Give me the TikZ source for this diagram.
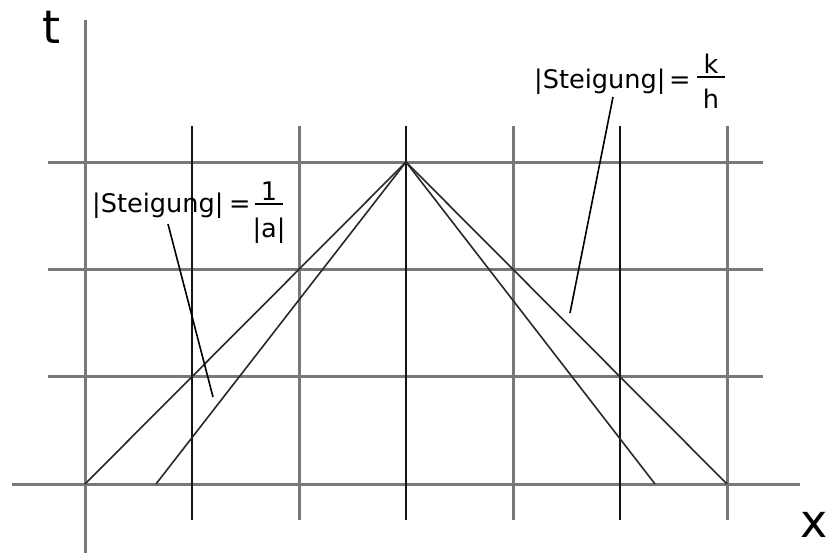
\documentclass[tikz,border=0pt]{standalone}
\usepackage{fontspec}
\setmainfont{DejaVu Sans}
\begin{document}
\begin{tikzpicture}[x=1pt,y=-1pt,
  grayline/.style={draw={rgb,255:red,120;green,120;blue,120},line width=3pt},
  blackline/.style={draw={rgb,255:red,20;green,20;blue,20},line width=2pt},
  diag/.style={draw={rgb,255:red,40;green,40;blue,40},line width=1.6pt},
  leader/.style={draw=black,line width=1.6pt},
  lab/.style={inner sep=0pt,font=\fontsize{25.6}{31}\selectfont},
  axlab/.style={inner sep=0pt,font=\fontsize{46}{52}\selectfont}]
\useasboundingbox (0,0) rectangle (827,554);
% horizontal grid lines
\foreach \y/\n in {162/a,269/b,376/c}{
  \coordinate (h\n l) at (48,\y);
  \coordinate (h\n r) at (763,\y);
  \draw[grayline] (h\n l) -- (h\n r);
}
% x axis
\coordinate (xl) at (12,484);
\coordinate (xr) at (800,484);
\draw[grayline] (xl) -- (xr);
% t axis
\coordinate (tb) at (85,553);
\coordinate (tt) at (85,20);
\draw[grayline] (tb) -- (tt);
% vertical grid lines
\foreach \x/\n in {299/b,513/d,727/f}{
  \coordinate (v\n t) at (\x,126);
  \coordinate (v\n b) at (\x,520);
  \draw[grayline] (v\n t) -- (v\n b);
}
\foreach \x/\n in {192/a,406/c,620/e}{
  \coordinate (v\n t) at (\x,126);
  \coordinate (v\n b) at (\x,520);
  \draw[blackline] (v\n t) -- (v\n b);
}
% characteristic lines
\coordinate (apex) at (406,162);
\coordinate (L1) at (85,484);
\coordinate (L2) at (156,484);
\coordinate (R1) at (727,484);
\coordinate (R2) at (655,484);
\draw[diag] (L1) -- (apex) -- (R1);
\draw[diag] (L2) -- (apex) -- (R2);
% axis labels
\node[axlab,anchor=base west] (tlab) at (42,43) {t};
\node[axlab,anchor=base west] (xlab) at (800,537) {x};
% left label
\node[lab,anchor=base west] (sl) at (92,212) {|Steigung|};
\node[lab,anchor=base west] (eql) at (229,212) {=};
\coordinate (fl1) at (255,204);
\coordinate (fl2) at (283,204);
\draw[line width=1.5pt] (fl1) -- (fl2);
\node[lab,anchor=base] (numl) at (269,200) {1};
\node[lab,anchor=base] (denl) at (269,237) {|a|};
\coordinate (ldl1) at (168,224);
\coordinate (ldl2) at (213,397);
\draw[leader] (ldl1) -- (ldl2);
% right label
\node[lab,anchor=base west] (sr) at (534,88) {|Steigung|};
\node[lab,anchor=base west] (eqr) at (669,88) {=};
\coordinate (fr1) at (697,77);
\coordinate (fr2) at (725,77);
\draw[line width=1.5pt] (fr1) -- (fr2);
\node[lab,anchor=base] (numr) at (711,73) {k};
\node[lab,anchor=base] (denr) at (711,108) {h};
\coordinate (ldr1) at (613,97);
\coordinate (ldr2) at (570,313);
\draw[leader] (ldr1) -- (ldr2);
\end{tikzpicture}
\end{document}
